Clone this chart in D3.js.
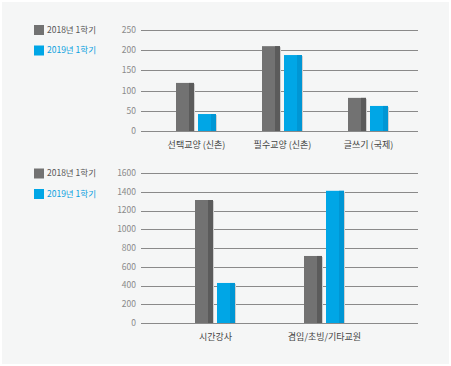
<!DOCTYPE html>
<html><head><meta charset="utf-8">
<script src="https://cdn.jsdelivr.net/npm/d3@7"></script>
<style>
html,body{margin:0;padding:0;background:#fff;}
svg{display:block;font-family:"Noto Sans CJK KR","Noto Sans",sans-serif;}
</style></head>
<body><svg id="c" width="451" height="366"></svg>
<script>
const seriesNames = ["2018년 1학기", "2019년 1학기"];
const topCategories = ["선택교양 (신촌)", "필수교양 (신촌)", "글쓰기 (국제)"];
const top2018 = [119, 210, 82];
const top2019 = [42, 188, 62];
const topTicks = [0, 50, 100, 150, 200, 250];
const botCategories = ["시간강사", "겸임/초빙/기타교원"];
const bot2018 = [1312, 715];
const bot2019 = [427, 1410];
const botTicks = [0, 200, 400, 600, 800, 1000, 1200, 1400, 1600];

const colors = [{main:"#727272", dark:"#5b5b5b"}, {main:"#00a6e6", dark:"#0096d4"}];
const legendText = ["#555555", "#0a9fe0"];

const svg = d3.select("#c");
svg.append("rect").attr("x",2).attr("y",2).attr("width",447).attr("height",362).attr("fill","#f5f6f6");

function drawChart(cfg){
  const y = d3.scaleLinear().domain([0, cfg.max]).range([cfg.y0, cfg.y1]);
  const x = d3.scaleBand().domain(cfg.cats).range(cfg.xr).padding(0);
  const g = svg.append("g");
  // grid
  g.selectAll("line.grid").data(cfg.ticks).join("line")
    .attr("x1",141).attr("x2",418)
    .attr("y1",d=>Math.round(y(d))+0.5).attr("y2",d=>Math.round(y(d))+0.5)
    .attr("stroke","#8a8a8a").attr("stroke-width",1.2);
  g.selectAll("text.tick").data(cfg.ticks).join("text")
    .attr("x",136).attr("y",d=>y(d)).attr("dy","0.35em")
    .attr("text-anchor","end").attr("font-size",8.5).attr("fill","#8a8a8a")
    .text(d=>d);
  const series = [cfg.s1, cfg.s2];
  series.forEach((vals, si)=>{
    const gs = g.append("g");
    vals.forEach((v,i)=>{
      const cx = x(cfg.cats[i]) + x.bandwidth()/2;
      const bx = si===0 ? cx - 20.5 : cx + 1.5;
      const top = y(v), h = cfg.y0 - top;
      gs.append("rect").attr("x",bx+18).attr("y",top+1).attr("width",1).attr("height",h-1).attr("fill","#cfcfcf");
      gs.append("rect").attr("x",bx).attr("y",top).attr("width",18).attr("height",h).attr("fill",colors[si].main);
      gs.append("rect").attr("x",bx+13).attr("y",top).attr("width",5).attr("height",h).attr("fill",colors[si].dark);
    });
  });
  g.selectAll("text.cat").data(cfg.cats).join("text")
    .attr("x",d=>x(d)+x.bandwidth()/2).attr("y",cfg.labelY)
    .attr("text-anchor","middle").attr("font-size",9).attr("fill","#444")
    .text(d=>d);
  // legend
  seriesNames.forEach((n,i)=>{
    const ly = cfg.legY + i*20.5;
    g.append("rect").attr("x",34).attr("y",ly).attr("width",10).attr("height",10).attr("fill",colors[i].main);
    g.append("text").attr("x",47).attr("y",ly+5).attr("dy","0.35em")
      .attr("font-size",8.5).attr("fill",legendText[i]).text(n);
  });
}

drawChart({cats:topCategories, s1:top2018, s2:top2019, ticks:topTicks, max:250,
  y0:131, y1:30, xr:[153.5,411.5], labelY:148, legY:25});
drawChart({cats:botCategories, s1:bot2018, s2:bot2019, ticks:botTicks, max:1600,
  y0:323, y1:173, xr:[161,379], labelY:340, legY:168.5});
</script></body></html>
